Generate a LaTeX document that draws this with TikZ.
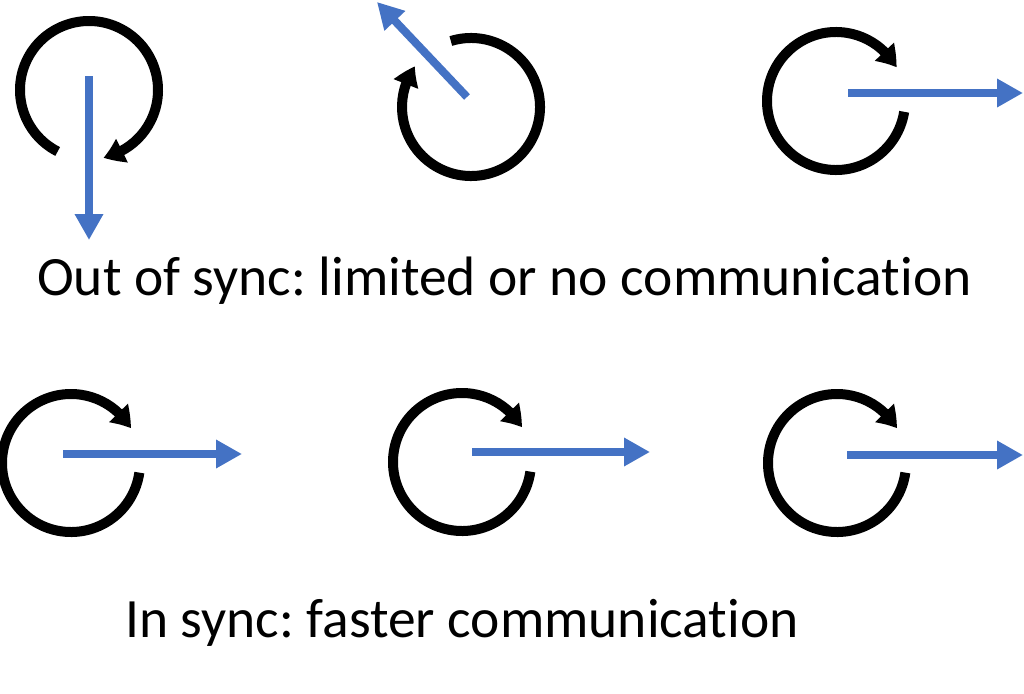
\documentclass[tikz,border=0pt]{standalone}
\usepackage{fontspec}
\setmainfont{Carlito}[Ligatures=NoCommon]
\frenchspacing
\usetikzlibrary{arrows.meta,bending}
\definecolor{officeblue}{RGB}{68,114,196}
\tikzset{
  ring/.style={draw=black, line width=10pt, -{Triangle[length=20pt,width=25pt,bend]}},
  vec/.style={draw=officeblue, line width=8pt, -{Triangle[length=26pt,width=27pt]}},
  caption/.style={anchor=base west, inner sep=0pt, font=\fontsize{55.5pt}{62pt}\selectfont}
}
\begin{document}
\begin{tikzpicture}[x=1pt,y=1pt]
\useasboundingbox (0,0) rectangle (1024,-693);
\fill[white] (0,0) rectangle (1024,-693);
% centres
\coordinate (c1) at (89,-90);
\coordinate (c2) at (471,-107);
\coordinate (c3) at (836,-101);
\coordinate (d1) at (71,-463);
\coordinate (d2) at (462,-462);
\coordinate (d3) at (837,-463);
% arrow end points
\coordinate (a1s) at (89,-76);   \coordinate (a1e) at (89,-240);
\coordinate (a2s) at (467,-97);  \coordinate (a2e) at (377,-2);
\coordinate (a3s) at (848,-93);  \coordinate (a3e) at (1023,-93);
\coordinate (b1s) at (63,-454);  \coordinate (b1e) at (242,-454);
\coordinate (b2s) at (472,-452); \coordinate (b2e) at (650,-452);
\coordinate (b3s) at (847,-455); \coordinate (b3e) at (1023,-455);
% top row rings
\draw[ring] (c1) ++(243:69) arc[start angle=243, end angle=-78, radius=69];
\draw[ring] (c2) ++(107:69) arc[start angle=107, end angle=-216, radius=69];
\draw[ring] (c3) ++(-9:69) arc[start angle=-9, end angle=-331, radius=69];
% bottom row rings
\draw[ring] (d1) ++(-8:69) arc[start angle=-8, end angle=-330, radius=69];
\draw[ring] (d2) ++(-8:69) arc[start angle=-8, end angle=-330, radius=69];
\draw[ring] (d3) ++(-8:69) arc[start angle=-8, end angle=-330, radius=69];
% blue vectors
\draw[vec] (a1s) -- (a1e);
\draw[vec] (a2s) -- (a2e);
\draw[vec] (a3s) -- (a3e);
\draw[vec] (b1s) -- (b1e);
\draw[vec] (b2s) -- (b2e);
\draw[vec] (b3s) -- (b3e);
% captions
\node[caption] (t1) at (37,-295) {Out of sync: limited or no communication};
\node[caption] (t2) at (125,-637) {In sync: faster communication};
\end{tikzpicture}
\end{document}
